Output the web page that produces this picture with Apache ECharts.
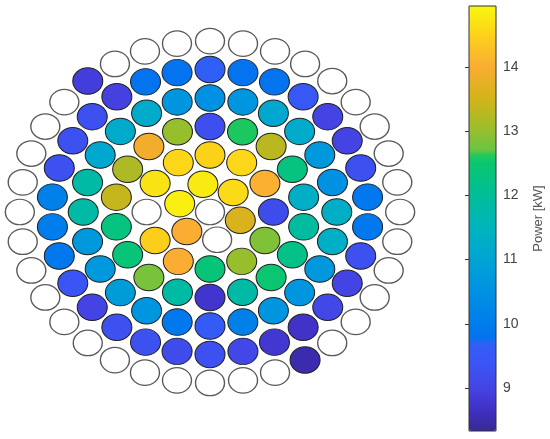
<!DOCTYPE html>
<html>
<head>
<meta charset="utf-8">
<script src="https://cdn.jsdelivr.net/npm/echarts@6/dist/echarts.min.js"></script>
<style>
    html, body { margin: 0; padding: 0; background: #fff; }
    #core-map { width: 550px; height: 439px; }
</style>
</head>
<body>
<div id="core-map"></div>
<script>
    // ------------------------------
    // Assembly power per ring [kW]
    // ring 0 = centre, slots run clockwise from ringStart (deg, 0 = right, 90 = down)
    // null = position without value (drawn white)
    // ------------------------------
    var ring0 = [null];
    var ring1 = [14.8, 14.6, 13.6, null, 14.0, 14.85];
    var ring2 = [14.5, 14.55, 14.05, 9.2, 12.85, 13.0, 12.4, 14.0, 14.45, null, 14.7, 14.55];
    var ring3 = [9.25, 12.6, 13.3, 12.3, 11.3, 11.9, 12.2, 12.5, 11.8, 8.75, 11.85, 12.8,
                 12.4, 12.3, 13.4, 13.2, 13.9, 13.0];
    var ring4 = [10.5, 10.6, 11.1, 11.2, 10.7, 10.5, 11.3, 11.3, 10.7, 10.6, 10.6, 10.1,
                 9.6, 9.9, 10.6, 10.8, 10.7, 10.7, 11.8, 11.8, 11.1, 11.2, 11.2, 10.6];
    var ring5 = [9.7, 9.8, 9.8, 9.5, 9.0, 9.0, 9.3, 9.9, 9.9, 9.3, 9.0, 9.1, 8.7, 8.8, 9.1,
                 9.3, 9.2, 9.3, 9.3, 9.0, 9.4, 9.9, 10.0, 10.1, 9.3, 9.3, 9.3, 8.95, 9.8, 9.8];
    var ring6 = [null, null, null, null, null, null, null, null, null, null, null, null,
                 null, null, null, 8.5, null, null, null, null, null, null, null, null,
                 null, null, null, null, null, null, null, null, 8.9, null, null, null];
    var ringStart = [-90, -103, -90, -90, -90, -90, -90];

    // colour bar
    var powerMin = 8.33;
    var powerMax = 14.95;
    var powerTicks = [9, 10, 11, 12, 13, 14];

    // colour stops
    var cmapStops = [
        [8.33, '#372896'], [8.7, '#4132c8'], [9.0, '#4444e4'], [9.4, '#3a55f5'],
        [9.71, '#325ff8'], [9.74, '#0570f0'], [10.0, '#007dec'], [10.5, '#0091e2'],
        [11.0, '#00a4d4'], [11.5, '#00b4bc'], [12.0, '#00be98'], [12.5, '#0ac670'],
        [12.64, '#23c85a'], [12.67, '#64c646'], [13.0, '#96be2d'], [13.5, '#d2b419'],
        [14.0, '#faac32'], [14.5, '#fcd219'], [14.95, '#f8f80f']
    ];

    var rings = [ring0, ring1, ring2, ring3, ring4, ring5, ring6];

    var filled = [], empty = [];
    rings.forEach(function (vals, k) {
        vals.forEach(function (v, i) {
            var a = (ringStart[k] + i * 360 / vals.length) * Math.PI / 180;
            var x = k * Math.cos(a), y = k * Math.sin(a);
            if (v == null) empty.push([x, y]);
            else filled.push([x, y, v]);
        });
    });

    // evenly spaced colour list for the visualMap
    function rgb(h) {
        return [parseInt(h.substr(1, 2), 16), parseInt(h.substr(3, 2), 16), parseInt(h.substr(5, 2), 16)];
    }
    var cmap = [];
    var nCol = 331;
    for (var i = 0; i < nCol; i++) {
        var v = powerMin + (powerMax - powerMin) * i / (nCol - 1);
        var j = 0;
        while (j < cmapStops.length - 2 && v > cmapStops[j + 1][0]) j++;
        var s0 = cmapStops[j], s1 = cmapStops[j + 1];
        var t = Math.max(0, Math.min(1, (v - s0[0]) / (s1[0] - s0[0])));
        var c0 = rgb(s0[1]), c1 = rgb(s1[1]);
        cmap.push('rgb(' + Math.round(c0[0] + (c1[0] - c0[0]) * t) + ',' +
            Math.round(c0[1] + (c1[1] - c0[1]) * t) + ',' +
            Math.round(c0[2] + (c1[2] - c0[2]) * t) + ')');
    }

    var ellipse = 'path://M0,13A15,13 0 1,1 30,13A15,13 0 1,1 0,13Z';
    var font = 'Liberation Sans, Arial, sans-serif';

    var coreChart = echarts.init(document.getElementById('core-map'));

    var option = {
        animation: false,
        textStyle: { fontFamily: font },

        grid: [
            { left: 4, top: 4, width: 412, height: 416 },
            { left: 469, top: 6, width: 27, height: 425, show: true, z: 5,
              borderColor: '#333', borderWidth: 1, backgroundColor: 'transparent' }
        ],

        xAxis: [
            { gridIndex: 0, type: 'value', min: -6.5, max: 6.5, show: false },
            { gridIndex: 1, type: 'value', min: 0, max: 1, show: false }
        ],

        yAxis: [
            { gridIndex: 0, type: 'value', min: -7.3, max: 7.3, inverse: true, show: false },
            {
                gridIndex: 1, type: 'value', min: powerMin, max: powerMax, position: 'right', z: 6,
                splitLine: { show: false },
                axisLine: { show: false },
                axisTick: { show: true, inside: true, length: 4, customValues: powerTicks,
                            lineStyle: { color: '#333' } },
                axisLabel: { customValues: powerTicks, color: '#444', fontSize: 14, margin: 7,
                             fontFamily: font },
                name: 'Power [kW]',
                nameLocation: 'middle',
                nameRotate: 90,
                nameGap: 36,
                nameTextStyle: { color: '#555', fontSize: 13, fontFamily: font }
            }
        ],

        visualMap: {
            type: 'continuous',
            min: powerMin,
            max: powerMax,
            dimension: 2,
            seriesIndex: 0,
            calculable: false,
            hoverLink: false,
            orient: 'vertical',
            left: 469,
            top: 6,
            padding: 0,
            itemWidth: 27,
            itemHeight: 425,
            inRange: { color: cmap }
        },

        series: [
            {
                name: 'power',
                type: 'scatter',
                xAxisIndex: 0,
                yAxisIndex: 0,
                symbol: ellipse,
                symbolSize: [30, 26.5],
                itemStyle: { borderColor: '#222', borderWidth: 1, opacity: 1 },
                data: filled
            },
            {
                name: 'empty',
                type: 'scatter',
                xAxisIndex: 0,
                yAxisIndex: 0,
                silent: true,
                symbol: ellipse,
                symbolSize: [29, 25.5],
                itemStyle: { color: '#fff', borderColor: '#5a5a5a', borderWidth: 1.3, opacity: 1 },
                data: empty
            }
        ]
    };

    coreChart.setOption(option);
</script>
</body>
</html>
